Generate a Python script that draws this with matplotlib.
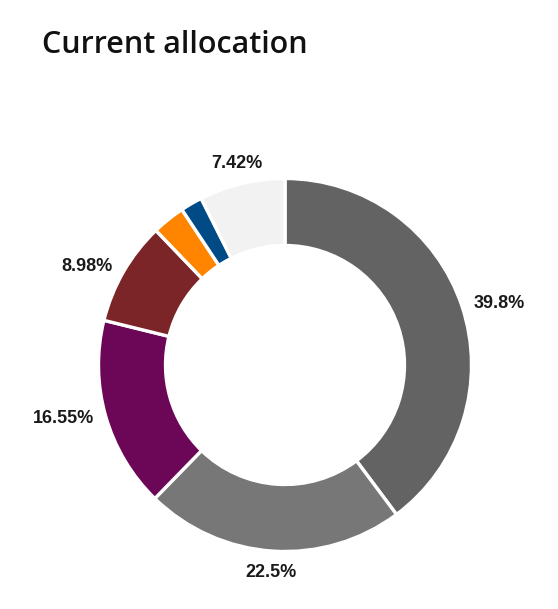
import numpy as np
import matplotlib
matplotlib.use("Agg")
import matplotlib.pyplot as plt
from matplotlib.patches import Rectangle

# Data
labels = ["39.8%", "22.5%", "16.55%", "8.98%", "", "", "7.42%"]
values = [39.8, 22.5, 16.55, 8.98, 2.85, 1.9, 7.42]
colors = ["#636363", "#777777", "#6c0657", "#7b2529", "#ff8500", "#004a86", "#f2f2f2"]
title = "Current allocation"

W, H = 558, 609
fig = plt.figure(figsize=(W / 100, H / 100), dpi=100)
ax = fig.add_axes([0, 0, 1, 1])

cx, cy = 285, H - 365
r_out, r_in = 186.5, 119.5
wedges, _ = ax.pie(values, colors=colors, startangle=90, counterclock=False,
                   center=(cx, cy), radius=r_out, frame=True,
                   wedgeprops=dict(width=r_out - r_in, edgecolor="white", linewidth=2.4))
ax.set_xlim(0, W)
ax.set_ylim(0, H)
ax.set_aspect("equal")
ax.axis("off")

clip_rect = Rectangle((36, 0), W - 36, H, transform=ax.transData,
                      facecolor="none", edgecolor="none")
ax.add_patch(clip_rect)

total = sum(values)
cum = 0.0
for v, lab in zip(values, labels):
    mid = (cum + v / 2) / total * 2 * np.pi
    cum += v
    if not lab:
        continue
    s, c = np.sin(mid), np.cos(mid)
    if abs(s) < 0.4:
        R = 209
        ha = "center"
    else:
        R = 199
        ha = "left" if s > 0 else "right"
    t = ax.text(cx + R * s, cy + R * c - 1.5 * np.sign(c), lab, ha=ha, va="center",
                fontsize=13, fontweight="bold", family=["Liberation Sans", "DejaVu Sans"],
                color="#1a1a1a")
    t.set_clip_path(clip_rect)

fig.text(42 / W, 1 - 53 / H, title, ha="left", va="baseline",
         fontsize=22, family="Open Sans", fontweight="semibold", color="#111111")

fig.savefig("out.png", dpi=100)
